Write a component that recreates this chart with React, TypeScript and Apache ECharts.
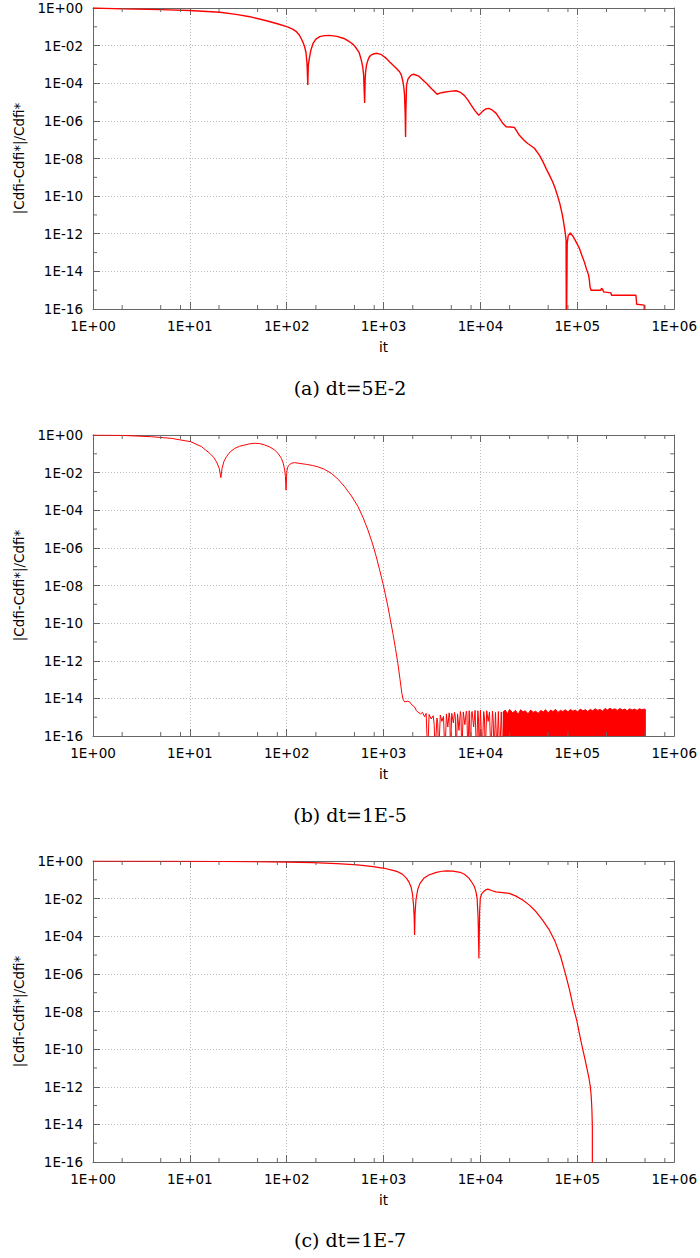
import React, { useEffect, useRef } from "react";
import * as echarts from "echarts";

// ---------- data ----------
const captions = ["(a) dt=5E-2", "(b) dt=1E-5", "(c) dt=1E-7"];
const xAxisName = "it";
const yAxisName = "|Cdfi-Cdfi*|/Cdfi*";

const xRange = [1, 1e6];
const yRange = [1e-16, 1];
const xMinorTicks = [2, 5, 8, 20, 50, 80, 200, 500, 800, 2000, 5000, 8000, 20000, 50000, 80000, 200000, 500000, 800000];
const yMinorTicks = [1e-1, 1e-3, 1e-5, 1e-7, 1e-9, 1e-11, 1e-13, 1e-15];

// (a) dt=5E-2  [it, |Cdfi-Cdfi*|/Cdfi*]
const curveA: [number, number][] = [
  [1, 1], [2, 0.9], [5, 0.82], [10, 0.74], [20.4, 0.59], [30, 0.46], [41.6, 0.345], [61.8, 0.21],
  [80, 0.145], [101.6, 0.1], [115, 0.075], [126, 0.055], [134, 0.038], [141, 0.024], [148, 0.014],
  [153, 0.0087], [158, 0.0043], [162, 0.00114], [165, 8e-5], [167, 0.0009], [170, 0.0017],
  [177, 0.0055], [187, 0.013], [200, 0.022], [219, 0.03], [245, 0.034], [277, 0.035], [330, 0.031],
  [390, 0.024], [446, 0.016], [490, 0.011], [523, 0.0072], [560, 0.0042], [589, 0.0017],
  [610, 7e-4], [622, 2.8e-4], [637, 9e-6], [645, 1.6e-4], [652, 4e-4], [668, 0.001], [689, 0.0017],
  [715, 0.0026], [746, 0.0032], [800, 0.0037], [861, 0.0039], [950, 0.0033], [1066, 0.0021],
  [1150, 0.0014], [1247, 9.3e-4], [1350, 6.3e-4], [1462, 4.1e-4], [1530, 2.6e-4], [1585, 1.2e-4],
  [1620, 5.5e-5], [1646, 2.3e-5], [1672, 2e-6], [1686, 1.4e-7], [1700, 4e-6], [1726, 8e-5],
  [1780, 1.6e-4], [1854, 2.2e-4], [1950, 2.8e-4], [2052, 3e-4], [2300, 2.4e-4], [2541, 1.5e-4],
  [2800, 9.5e-5], [3090, 5.4e-5], [3350, 3.6e-5], [3570, 2.6e-5], [3800, 3e-5], [4075, 3.2e-5],
  [4800, 3.7e-5], [5620, 4e-5], [6200, 3.3e-5], [6840, 2.2e-5], [7400, 1.3e-5], [8020, 6.9e-6],
  [8800, 3.4e-6], [9610, 2e-6], [10570, 3.3e-6], [11300, 4.3e-6], [12190, 4.6e-6], [13300, 3.7e-6],
  [14520, 2.5e-6], [15800, 1.3e-6], [16980, 7.4e-7], [18400, 4.9e-7], [20300, 4.7e-7],
  [22390, 4.5e-7], [25230, 1.7e-7], [27800, 1e-7], [30760, 6.3e-8], [36060, 3.5e-8],
  [40550, 1.5e-8], [44000, 7e-9], [47530, 3e-9], [51500, 1.3e-9], [55590, 5.8e-10],
  [59000, 2.6e-10], [62660, 1e-10], [66000, 4e-11], [69500, 1.2e-11], [71500, 5.5e-12],
  [73450, 2.3e-12], [75200, 1e-12], [76560, 4.6e-13], [77090, 1e-18], [78000, 1e-18],
  [78600, 3e-13], [80500, 8e-13], [84720, 1.1e-12], [90000, 7.5e-13], [97050, 3.7e-13],
  [104950, 1.7e-13], [111000, 7.5e-14], [118030, 3.2e-14], [124000, 1.4e-14], [130620, 6.3e-15],
  [133000, 3.5e-15], [135210, 1.5e-15], [138500, 1e-15], [143880, 1e-15], [175390, 1e-15],
  [177000, 1.25e-15], [179470, 1.2e-15], [183000, 1.1e-15], [186640, 8.1e-16], [222330, 7.2e-16],
  [225000, 5.4e-16], [402720, 5.4e-16], [410000, 1.8e-16], [490900, 1.6e-16], [492000, 1e-18],
];

// (b) dt=1E-5 : decay and sparse noise spikes
const curveB: [number, number][] = [
  [1, 1], [1.97, 0.955], [4.03, 0.81], [6.5, 0.66], [10.2, 0.44], [13.2, 0.24], [16.1, 0.105],
  [17.6, 0.065], [18.8, 0.038], [20.1, 0.017], [20.9, 0.0054], [21.5, 0.017], [22.5, 0.04],
  [23.9, 0.071], [26.2, 0.13], [29.1, 0.195], [32.5, 0.25], [36.9, 0.295], [41.5, 0.34],
  [46.8, 0.363], [52.5, 0.35], [59.3, 0.295], [67, 0.23], [75.2, 0.158], [82, 0.1], [88.1, 0.0575],
  [92, 0.032], [95.3, 0.0138], [97, 0.006], [98.4, 0.00117], [99.5, 0.006], [100.7, 0.0138],
  [103.5, 0.022], [107.4, 0.0275], [113, 0.032], [120.8, 0.034], [135, 0.031], [159.6, 0.0275],
  [185, 0.024], [210, 0.0204], [245, 0.015], [289, 0.0091], [340, 0.0044], [396, 0.00178],
  [465, 5.8e-4], [543, 1.6e-4], [615, 4e-5], [689, 8.9e-6], [765, 1.8e-6], [840, 3.4e-7],
  [910, 6.8e-8], [984, 1.3e-8], [1045, 3.2e-9], [1109, 7.4e-10], [1175, 1.5e-10], [1248, 2.8e-11],
  [1325, 4.6e-12], [1405, 7.1e-13], [1475, 1.1e-13], [1545, 1.8e-14], [1590, 9e-15],
  [1646, 6.5e-15], [1760, 7e-15], [1854, 6.5e-15], [1960, 4.5e-15], [2089, 3.5e-15],
  [2180, 2.2e-15], [2260, 1.9e-15], [2400, 1.5e-15], [2520, 1.8e-15], [2649, 1.05e-15],
  [2750, 1.6e-15], [2850, 1e-17], [2950, 1.4e-15], [3100, 8e-16], [3250, 1.2e-15], [3330, 4e-16],
  [3400, 1e-17], [3550, 9e-16], [3620, 5e-16], [3700, 1e-17], [3850, 1.3e-15], [4000, 6e-16],
  [4150, 1.1e-15], [4300, 1e-17], [4450, 1.5e-15], [4600, 3e-16], [4750, 1.7e-15], [4830, 9e-16],
  [4900, 1e-17], [5050, 1.6e-15], [5250, 5e-16], [5400, 1.8e-15], [5500, 1.1e-15], [5600, 1e-17],
  [5800, 1.5e-15], [6000, 2e-16], [6200, 2e-15], [6300, 1.2e-15], [6400, 1e-17], [6650, 1.9e-15],
  [6900, 4e-16], [7150, 2.1e-15], [7250, 1.4e-15], [7400, 1e-17], [7650, 2.2e-15], [7900, 1e-17],
  [8050, 1.6e-15], [8200, 2e-15], [8500, 3e-16], [8800, 2.3e-15], [9100, 1e-17], [9400, 2.2e-15],
  [9550, 8e-16], [9700, 1e-17], [10000, 2.4e-15], [10400, 1e-17], [10800, 2e-15], [11000, 9e-16],
  [11200, 1e-17], [11600, 2.2e-15], [12000, 6e-16], [12400, 1.9e-15], [12800, 1e-17],
  [13300, 2.1e-15], [13550, 7e-16], [13800, 1e-17], [14300, 1.8e-15], [14800, 1e-17],
  [15300, 2e-15], [15800, 1e-17], [16400, 1.9e-15], [17000, 1e-17],
];

// (b) dense noise band (upper envelope, filled down to the floor)
const curveBBand: [number, number][] = [
  [17000, 1.8e-15], [18000, 2.4e-15], [19000, 1.5e-15], [20000, 2.6e-15], [21500, 1.7e-15],
  [23000, 2.3e-15], [24500, 1.4e-15], [26000, 2.5e-15], [27500, 1.9e-15], [29000, 2.2e-15],
  [31000, 1.5e-15], [33000, 2.4e-15], [35000, 1.8e-15], [37000, 2.1e-15], [39500, 1.6e-15],
  [42000, 2.3e-15], [44500, 1.9e-15], [47000, 2.5e-15], [50000, 1.7e-15], [53000, 2.4e-15],
  [56000, 2e-15], [59500, 2.6e-15], [63000, 1.8e-15], [67000, 2.3e-15], [71000, 2e-15],
  [75000, 2.5e-15], [80000, 1.9e-15], [85000, 2.6e-15], [90000, 2.1e-15], [95000, 2.4e-15],
  [101000, 1.9e-15], [107000, 2.7e-15], [114000, 2.2e-15], [121000, 2.5e-15], [128000, 2e-15],
  [136000, 2.6e-15], [144000, 2.2e-15], [153000, 2.8e-15], [162000, 2.3e-15], [172000, 2.6e-15],
  [182000, 2.1e-15], [193000, 2.9e-15], [205000, 2.4e-15], [217000, 3e-15], [230000, 2.5e-15],
  [244000, 2.8e-15], [259000, 2.3e-15], [275000, 2.9e-15], [291000, 2.4e-15], [309000, 2.7e-15],
  [327000, 2.2e-15], [347000, 2.8e-15], [368000, 2.4e-15], [390000, 2.7e-15], [413000, 2.3e-15],
  [438000, 2.8e-15], [464000, 2.5e-15], [492000, 2.7e-15], [510000, 2.4e-15],
];

// (c) dt=1E-7
const curveC: [number, number][] = [
  [1, 1], [10, 0.97], [46.7, 0.91], [100, 0.88], [185, 0.81], [330, 0.72], [537, 0.62],
  [780, 0.5], [1015, 0.41], [1220, 0.33], [1393, 0.27], [1560, 0.2], [1726, 0.12], [1830, 0.075],
  [1918, 0.043], [1990, 0.017], [2044, 0.0037], [2070, 0.0009], [2089, 1.15e-4], [2110, 0.0015],
  [2158, 0.0085], [2250, 0.03], [2374, 0.065], [2600, 0.12], [2930, 0.18], [3500, 0.25],
  [4000, 0.285], [4487, 0.3], [5200, 0.29], [6170, 0.25], [6900, 0.19], [7620, 0.12], [8200, 0.07],
  [8670, 0.043], [9000, 0.022], [9230, 0.0105], [9450, 0.001], [9640, 6.6e-6], [9800, 0.002],
  [9960, 0.0105], [10300, 0.018], [10720, 0.023], [11300, 0.029], [11920, 0.032], [13000, 0.027],
  [14420, 0.023], [17000, 0.021], [19800, 0.019], [23000, 0.014], [27300, 0.0085], [32000, 0.0045],
  [37500, 0.002], [44000, 7e-4], [51500, 2.1e-4], [59000, 5.2e-5], [67300, 8.1e-6], [75000, 1.1e-6],
  [83100, 1.4e-7], [90900, 1.7e-8], [98900, 3.2e-9], [108400, 3e-10], [120500, 2.6e-11],
  [131100, 3.4e-12], [135500, 1.2e-12], [138400, 4.4e-13], [140200, 1.5e-13], [141400, 5.8e-14],
  [142400, 1.5e-14], [142900, 7.4e-15], [143000, 1e-18],
];

// ---------- layout / style ----------
const GRID_TOPS = [8, 435, 861];
const GRID_LEFT = 93;
const GRID_W = 582;
const GRID_H = 301;
const CAPTION_Y = [388, 815, 1240];
const FRAME = "#666666";
const GRIDLINE = "#bdbdbd";
const RED = "#ff0000";
const SANS = "DejaVu Sans";
const FS = 13.5;
const MAJOR = 7;
const MINOR = 4;

const fmtExp = (v: number) => {
  const e = Math.round(Math.log10(v));
  const a = Math.abs(e);
  return "1E" + (e < 0 ? "-" : "+") + (a < 10 ? "0" + a : String(a));
};

function buildOption() {
  const grid: any[] = [];
  const xAxis: any[] = [];
  const yAxis: any[] = [];
  const series: any[] = [];
  const graphic: any[] = [];

  const lineStyle = { color: FRAME, width: 1 };
  const split = { show: true, lineStyle: { color: GRIDLINE, width: 1, type: [1, 2] } };

  for (let i = 0; i < 3; i++) {
    grid.push({ left: GRID_LEFT, top: GRID_TOPS[i], width: GRID_W, height: GRID_H });
    xAxis.push({
      type: "log", logBase: 10, gridIndex: i, min: xRange[0], max: xRange[1], position: "bottom",
      name: xAxisName, nameLocation: "middle", nameGap: 31,
      nameTextStyle: { fontFamily: SANS, fontSize: FS, color: "#000" },
      axisLine: { show: true, onZero: false, lineStyle },
      axisTick: { show: true, inside: true, length: MAJOR, lineStyle },
      axisLabel: { formatter: fmtExp, fontFamily: SANS, fontSize: FS, color: "#000", margin: 10 },
      splitLine: split, minorTick: { show: false }, minorSplitLine: { show: false },
    });
    xAxis.push({
      type: "log", logBase: 10, gridIndex: i, min: xRange[0], max: xRange[1], position: "top",
      axisLine: { show: true, onZero: false, lineStyle },
      axisTick: { show: true, inside: true, length: MAJOR, lineStyle },
      axisLabel: { show: false }, splitLine: { show: false },
    });
    yAxis.push({
      type: "log", logBase: 10, gridIndex: i, min: yRange[0], max: yRange[1], interval: 2, position: "left",
      name: yAxisName, nameLocation: "middle", nameGap: 55,
      nameTextStyle: { fontFamily: SANS, fontSize: FS, color: "#000" },
      axisLine: { show: true, onZero: false, lineStyle },
      axisTick: { show: true, inside: true, length: MAJOR, lineStyle },
      axisLabel: { formatter: fmtExp, fontFamily: SANS, fontSize: FS, color: "#000", margin: 10 },
      splitLine: split, minorTick: { show: false },
    });
    yAxis.push({
      type: "log", logBase: 10, gridIndex: i, min: yRange[0], max: yRange[1], interval: 2, position: "right",
      axisLine: { show: true, onZero: false, lineStyle },
      axisTick: { show: true, inside: true, length: MAJOR, lineStyle },
      axisLabel: { show: false }, splitLine: { show: false },
    });

    // minor ticks on x (bottom + top)
    series.push({
      type: "custom", xAxisIndex: 2 * i, yAxisIndex: 2 * i, clip: false, silent: true, z: 5,
      data: xMinorTicks.map((v) => [v, yRange[1]]),
      renderItem: (_p: any, api: any) => {
        const x = api.value(0);
        const b = api.coord([x, yRange[0]]);
        const t = api.coord([x, yRange[1]]);
        return {
          type: "group",
          children: [
            { type: "line", shape: { x1: b[0], y1: b[1], x2: b[0], y2: b[1] - MINOR }, style: { stroke: FRAME, lineWidth: 1 } },
            { type: "line", shape: { x1: t[0], y1: t[1], x2: t[0], y2: t[1] + MINOR }, style: { stroke: FRAME, lineWidth: 1 } },
          ],
        };
      },
    });
    // minor ticks on y (left + right)
    series.push({
      type: "custom", xAxisIndex: 2 * i, yAxisIndex: 2 * i, clip: false, silent: true, z: 5,
      data: yMinorTicks.map((v) => [xRange[0], v]),
      renderItem: (_p: any, api: any) => {
        const y = api.value(1);
        const l = api.coord([xRange[0], y]);
        const r = api.coord([xRange[1], y]);
        return {
          type: "group",
          children: [
            { type: "line", shape: { x1: l[0], y1: l[1], x2: l[0] + MINOR, y2: l[1] }, style: { stroke: FRAME, lineWidth: 1 } },
            { type: "line", shape: { x1: r[0], y1: r[1], x2: r[0] - MINOR, y2: r[1] }, style: { stroke: FRAME, lineWidth: 1 } },
          ],
        };
      },
    });

    graphic.push({
      type: "text", left: "center", top: CAPTION_Y[i] - 10,
      style: { text: captions[i], fontFamily: "DejaVu Serif", fontSize: 19, fill: "#000" },
    });
  }

  const lineSeries = (data: [number, number][], gi: number, width: number, extra: any = {}) => ({
    type: "line", xAxisIndex: 2 * gi, yAxisIndex: 2 * gi, data, showSymbol: false, symbol: "none",
    lineStyle: { color: RED, width }, itemStyle: { color: RED }, clip: true, z: 3, ...extra,
  });

  series.push(lineSeries(curveA, 0, 1.4));
  series.push(lineSeries(curveB, 1, 1));
  series.push(lineSeries(curveBBand, 1, 1, { areaStyle: { color: RED, opacity: 1, origin: "start" } }));
  series.push(lineSeries(curveC, 2, 1.2));

  return { animation: false, backgroundColor: "#fff", grid, xAxis, yAxis, series, graphic };
}

export default function App() {
  const ref = useRef<HTMLDivElement>(null);
  useEffect(() => {
    if (!ref.current) return;
    const chart = echarts.init(ref.current, undefined, { renderer: "svg" });
    chart.setOption(buildOption() as any);
    return () => chart.dispose();
  }, []);
  return <div ref={ref} style={{ position: "absolute", left: 0, top: 0, width: 700, height: 1258, background: "#fff" }} />;
}
